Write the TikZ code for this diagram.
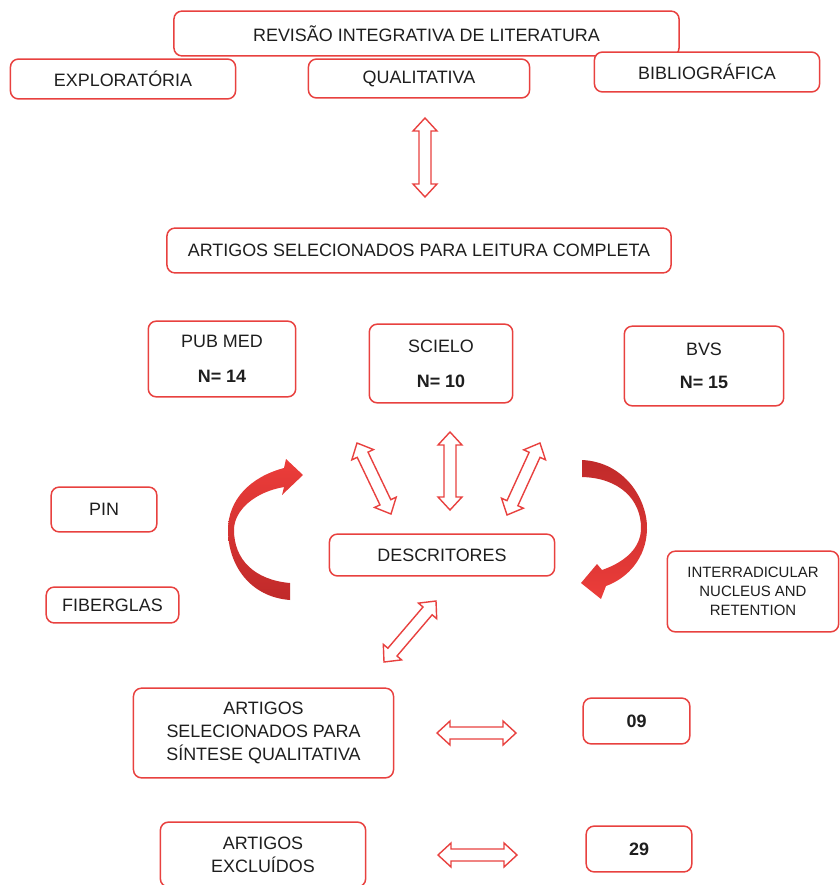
\documentclass[tikz,border=0pt]{standalone}
\usepackage{fontspec}
\setmainfont{Liberation Sans}
\usepackage{tikz}
\usetikzlibrary{calc}
\definecolor{vermelhoBorda}{HTML}{E8413F}
\definecolor{vermelhoSeta}{HTML}{EC3D3A}
\definecolor{vermelhoEscuro}{HTML}{C02A2A}
\definecolor{textoEscuro}{HTML}{1E1E1E}
\newcommand{\setaDupla}[2]{%
\draw[setaoca] (#1) -- ($(#1)!13bp!(#2)!12bp!90:(#2)$) -- ($(#1)!13bp!(#2)!6bp!90:(#2)$)
 -- ($(#2)!13bp!(#1)!6bp!-90:(#1)$) -- ($(#2)!13bp!(#1)!12bp!-90:(#1)$) -- (#2)
 -- ($(#2)!13bp!(#1)!12bp!90:(#1)$) -- ($(#2)!13bp!(#1)!6bp!90:(#1)$)
 -- ($(#1)!13bp!(#2)!6bp!-90:(#2)$) -- ($(#1)!13bp!(#2)!12bp!-90:(#2)$) -- cycle;}

\begin{document}
\begin{tikzpicture}[x=1bp,y=-1bp,
 caixa/.style={draw=vermelhoBorda,line width=1.5bp,rounded corners=8bp,fill=white,align=center,text=textoEscuro,inner sep=0pt,font=\fontsize{18}{23}\selectfont},
 setaoca/.style={draw=vermelhoBorda,line width=1.4bp,fill=white,line join=miter}]
\useasboundingbox (0,0) rectangle (840,885);
\node[caixa,minimum width=507,minimum height=45] (revisao) at (426.5,33.5) {REVISÃO INTEGRATIVA DE LITERATURA};
\node[caixa,minimum width=226,minimum height=40] (exploratoria) at (123,79) {EXPLORATÓRIA};
\node[caixa,minimum width=222,minimum height=39] (qualitativa) at (419,78.5) {QUALITATIVA};
\node[caixa,minimum width=226,minimum height=40] (bibliografica) at (707,72) {BIBLIOGRÁFICA};
\node[caixa,minimum width=506,minimum height=45] (leitura) at (419,250.5) {ARTIGOS SELECIONADOS PARA LEITURA COMPLETA};
\node[caixa,minimum width=148,minimum height=76] (pubmed) at (222,359) {PUB MED\\[12bp]\textbf{N= 14}};
\node[caixa,minimum width=144,minimum height=79] (scielo) at (441,363.5) {SCIELO\\[12bp]\textbf{N= 10}};
\node[caixa,minimum width=160,minimum height=80] (bvs) at (704,366) {BVS\\[10bp]\textbf{N= 15}};
\node[caixa,minimum width=106,minimum height=45] (pin) at (104,509.5) {PIN};
\node[caixa,minimum width=133,minimum height=36] (fiberglas) at (112.5,605) {FIBERGLAS};
\node[caixa,minimum width=226,minimum height=42] (descritores) at (442,555) {DESCRITORES};
\node[caixa,minimum width=172,minimum height=81,font=\fontsize{15}{19}\selectfont] (interradicular) at (753,591.5) {INTERRADICULAR\\NUCLEUS AND\\RETENTION};
\node[caixa,minimum width=261,minimum height=90] (sintese) at (263.5,733) {ARTIGOS\\SELECIONADOS PARA\\SÍNTESE QUALITATIVA};
\node[caixa,minimum width=107,minimum height=46] (nove) at (636.5,721) {\textbf{09}};
\node[caixa,minimum width=206,minimum height=65] (excluidos) at (263,854.5) {ARTIGOS\\EXCLUÍDOS};
\node[caixa,minimum width=106,minimum height=46] (vinte) at (639,849) {\textbf{29}};
\coordinate (topoA) at (425,118);
\coordinate (topoB) at (425,197);
\coordinate (esqA) at (357,443);
\coordinate (esqB) at (391,514);
\coordinate (meioA) at (450,432);
\coordinate (meioB) at (450,510);
\coordinate (dirA) at (540,443);
\coordinate (dirB) at (507,515);
\coordinate (baixoA) at (436,601);
\coordinate (baixoB) at (384,662);
\coordinate (sinteseA) at (437,733);
\coordinate (sinteseB) at (516,733);
\coordinate (excluiA) at (438,855);
\coordinate (excluiB) at (517,855);
\setaDupla{topoA}{topoB}
\setaDupla{esqA}{esqB}
\setaDupla{meioA}{meioB}
\setaDupla{dirA}{dirB}
\setaDupla{baixoA}{baixoB}
\setaDupla{sinteseA}{sinteseB}
\setaDupla{excluiA}{excluiB}
\shade[top color=vermelhoSeta,bottom color=vermelhoEscuro] (290,600) .. controls (250,597) and (228,565) .. (228,530)
 .. controls (228,500) and (250,477) .. (284,468) -- (286,459) -- (303,475) -- (282,495) -- (284,487)
 .. controls (255,492) and (234,510) .. (234,530) .. controls (234,560) and (255,580) .. (290,583) -- cycle;
\shade[top color=vermelhoEscuro,bottom color=vermelhoSeta] (582,460) .. controls (625,462) and (648,500) .. (647,530)
 .. controls (646,558) and (628,578) .. (606,586) -- (601,599) -- (581,583) -- (597,564) -- (602,570)
 .. controls (625,562) and (641,548) .. (641,528) .. controls (641,500) and (620,478) .. (582,477) -- cycle;
\end{tikzpicture}
\end{document}
